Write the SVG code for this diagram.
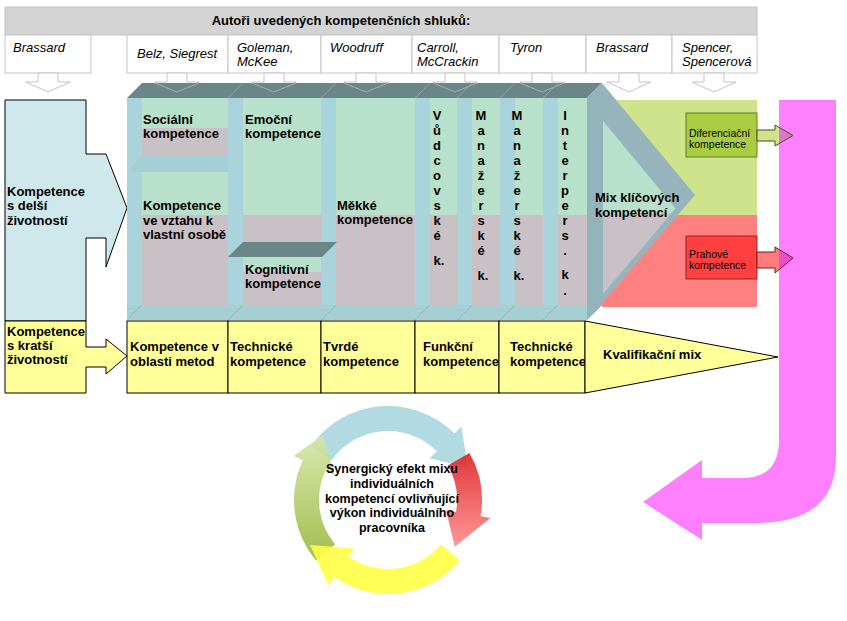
<svg xmlns="http://www.w3.org/2000/svg" width="847" height="621" viewBox="0 0 847 621">
<defs>
<style>
text{font-family:"Liberation Sans",Arial,sans-serif;fill:#000}
.b{font-weight:bold;font-size:13px}
.i{font-style:italic;font-size:13px}
.s{font-size:10.5px}
.v{font-weight:bold;font-size:13px;text-anchor:middle}
.c{font-weight:bold;font-size:12.5px;text-anchor:middle}
.cell{fill:#fff;stroke:#c4c4c4;stroke-width:1}
.dn{fill:#fff;stroke:#c4c4c4;stroke-width:1}
.dn2{fill:none;stroke:#9fb3b3;stroke-width:1}
.wall{fill:#a9d4db}
.grn{fill:#b9e0ca}
.gry{fill:#cac1c6}
.top{fill:#6b8686}
.yb{fill:#ffff99;stroke:#000;stroke-width:1}
.seam{stroke:#88a2a2;stroke-width:1}
.fseam{stroke:#8fbcc0;stroke-width:1}
.cyc{opacity:0.9}
</style>
<linearGradient id="gRed" x1="0" y1="0" x2="0" y2="1"><stop offset="0" stop-color="#dd2222"/><stop offset="1" stop-color="#ff8c8c"/></linearGradient>
<linearGradient id="gGreen" x1="0" y1="1" x2="0" y2="0"><stop offset="0" stop-color="#98b53a"/><stop offset="1" stop-color="#d6e6a8"/></linearGradient>
<linearGradient id="gDif" gradientUnits="userSpaceOnUse" x1="757" y1="0" x2="793" y2="0"><stop offset="0.61" stop-color="#d2e38e"/><stop offset="0.61" stop-color="#dd77cc"/></linearGradient>
<linearGradient id="gPra" gradientUnits="userSpaceOnUse" x1="757" y1="0" x2="793" y2="0"><stop offset="0.61" stop-color="#ff7c7c"/><stop offset="0.61" stop-color="#ee4ccc"/></linearGradient>
</defs>
<rect x="0" y="0" width="847" height="621" fill="#fff"/>

<g id="header">
<rect x="5" y="7" width="752" height="28" fill="#d4d4d4" stroke="#c4c4c4"/>
<text class="b" x="341" y="25" text-anchor="middle">Autoři uvedených kompetenčních shluků:</text>
</g>

<g id="authors">
<g id="a1"><rect class="cell" x="5" y="35" width="86" height="38"/><text class="i" x="13" y="52">Brassard</text></g>
<g id="a2"><rect class="cell" x="127" y="35" width="101" height="38"/><text class="i" x="137" y="58">Belz, Siegrest</text></g>
<g id="a3"><rect class="cell" x="228" y="35" width="93" height="38"/><text class="i" x="237" y="52">Goleman,</text><text class="i" x="237" y="66">McKee</text></g>
<g id="a4"><rect class="cell" x="321" y="35" width="91" height="38"/><text class="i" x="330" y="52">Woodruff</text></g>
<g id="a5"><rect class="cell" x="412" y="35" width="87" height="38"/><text class="i" x="417" y="52">Carroll,</text><text class="i" x="417" y="66">McCrackin</text></g>
<g id="a6"><rect class="cell" x="499" y="35" width="87" height="38"/><text class="i" x="510" y="52">Tyron</text></g>
<g id="a7"><rect class="cell" x="586" y="35" width="86" height="38"/><text class="i" x="596" y="52">Brassard</text></g>
<g id="a8"><rect class="cell" x="672" y="35" width="85" height="38"/><text class="i" x="682" y="52">Spencer,</text><text class="i" x="682" y="66">Spencerová</text></g>
</g>

<g id="author-arrows-back">
<path class="dn" d="M167,73V82H155L177,92L199,82H187V73Z"/>
<path class="dn" d="M264,73V82H252L274,92L296,82H284V73Z"/>
<path class="dn" d="M356,73V82H344L366,92L388,82H376V73Z"/>
<path class="dn" d="M445,73V82H433L455,92L477,82H465V73Z"/>
<path class="dn" d="M532,73V82H520L542,92L564,82H552V73Z"/>
</g>

<g id="right-areas">
<rect x="602" y="100" width="155" height="115" fill="#cfe38c"/>
<rect x="602" y="215" width="155" height="92" fill="#ff8080"/>
</g>

<g id="magenta-arrow">
<path d="M779,100H836V457Q836,523 755,523H702V540L643,502L702,460V478H742Q779,478 779,440Z" fill="#ff80ff"/>
</g>

<g id="left-long">
<path d="M5,100H86V154H106L127,208L106,267V238H86V321H5Z" fill="#cfe8ec" stroke="#000"/>
<text class="b" x="7" y="196">Kompetence</text>
<text class="b" x="7" y="210">s delší</text>
<text class="b" x="7" y="225">životností</text>
</g>

<g id="left-short">
<path d="M5,321H86V347H106V339L127,356L106,374V367H86V393H5Z" fill="#ffff99" stroke="#000"/>
<text class="b" x="7" y="336">Kompetence</text>
<text class="b" x="7" y="350">s kratší</text>
<text class="b" x="7" y="364">životností</text>
</g>

<g id="prism">
<rect class="grn" x="127" y="98" width="460" height="117"/>
<rect class="gry" x="127" y="215" width="460" height="90"/>
<rect class="gry" x="142" y="128" width="86" height="28"/>
<rect class="wall" x="127" y="98" width="15" height="207"/>
<rect class="wall" x="228" y="98" width="15" height="207"/>
<rect class="wall" x="321" y="98" width="15" height="207"/>
<rect class="wall" x="415" y="98" width="15" height="207"/>
<rect class="wall" x="457" y="98" width="15" height="207"/>
<rect class="wall" x="500" y="98" width="15" height="207"/>
<rect class="wall" x="543" y="98" width="15" height="207"/>
<polygon points="127,172 142,156 228,156 228,172" fill="#a4cfd5"/>
<rect class="grn" x="243" y="257" width="78" height="15"/>
<polygon class="top" points="228,257 243,242 337,242 322,257"/>
<rect x="127" y="305" width="460" height="15" fill="#a6cfd3"/>
<line class="fseam" x1="127" y1="320" x2="142" y2="305"/>
<line class="fseam" x1="228" y1="320" x2="243" y2="305"/>
<line class="fseam" x1="321" y1="320" x2="336" y2="305"/>
<line class="fseam" x1="415" y1="320" x2="430" y2="305"/>
<line class="fseam" x1="457" y1="320" x2="472" y2="305"/>
<line class="fseam" x1="500" y1="320" x2="515" y2="305"/>
<line class="fseam" x1="543" y1="320" x2="558" y2="305"/>
<polygon class="top" points="127,98 142,83 602,83 587,98"/>
<line class="seam" x1="228" y1="98" x2="243" y2="83"/>
<line class="seam" x1="321" y1="98" x2="336" y2="83"/>
<line class="seam" x1="415" y1="98" x2="430" y2="83"/>
<line class="seam" x1="457" y1="98" x2="472" y2="83"/>
<line class="seam" x1="500" y1="98" x2="515" y2="83"/>
<line class="seam" x1="543" y1="98" x2="558" y2="83"/>
<polygon points="587,98 602,83 602,305 587,320" fill="#94b4bc"/>
</g>

<g id="author-arrows-front">
<path class="dn2" d="M155,83L177,92L199,83"/>
<path class="dn2" d="M252,83L274,92L296,83"/>
<path class="dn2" d="M344,83L366,92L388,83"/>
<path class="dn2" d="M433,83L455,92L477,83"/>
<path class="dn2" d="M520,83L542,92L564,83"/>
</g>

<g id="mix-chevron">
<polygon points="602,83 695,195 587,321 602,305" fill="#97b4bd"/>
<polygon class="grn" points="603,121 675.6,208.4 671.7,213 603,213"/>
<polygon class="gry" points="603,213 671.7,213 603,294"/>
<text class="b" x="595" y="202">Mix klíčových</text>
<text class="b" x="595" y="217">kompetencí</text>
</g>

<g id="c-social"><text class="b" x="143" y="124">Sociální</text><text class="b" x="143" y="138">kompetence</text></g>
<g id="c-self"><text class="b" x="143" y="210">Kompetence</text><text class="b" x="143" y="225">ve vztahu k</text><text class="b" x="143" y="239">vlastní osobě</text></g>
<g id="c-emo"><text class="b" x="245" y="124">Emoční</text><text class="b" x="245" y="138">kompetence</text></g>
<g id="c-cog"><text class="b" x="245" y="274">Kognitivní</text><text class="b" x="245" y="288">kompetence</text></g>
<g id="c-soft"><text class="b" x="337" y="210">Měkké</text><text class="b" x="337" y="224">kompetence</text></g>
<g id="c-lead"><text class="v"><tspan x="437" y="120">V</tspan><tspan x="437" y="135">ů</tspan><tspan x="437" y="150">d</tspan><tspan x="437" y="165">c</tspan><tspan x="437" y="180">o</tspan><tspan x="437" y="195">v</tspan><tspan x="437" y="210">s</tspan><tspan x="437" y="225">k</tspan><tspan x="437" y="240">é</tspan><tspan x="439" y="265">k.</tspan></text></g>
<g id="c-man1"><text class="v"><tspan x="481" y="120">M</tspan><tspan x="481" y="135">a</tspan><tspan x="481" y="150">n</tspan><tspan x="481" y="165">a</tspan><tspan x="481" y="180">ž</tspan><tspan x="481" y="195">e</tspan><tspan x="481" y="210">r</tspan><tspan x="481" y="225">s</tspan><tspan x="481" y="240">k</tspan><tspan x="481" y="255">é</tspan><tspan x="483" y="280">k.</tspan></text></g>
<g id="c-man2"><text class="v"><tspan x="517" y="120">M</tspan><tspan x="517" y="135">a</tspan><tspan x="517" y="150">n</tspan><tspan x="517" y="165">a</tspan><tspan x="517" y="180">ž</tspan><tspan x="517" y="195">e</tspan><tspan x="517" y="210">r</tspan><tspan x="517" y="225">s</tspan><tspan x="517" y="240">k</tspan><tspan x="517" y="255">é</tspan><tspan x="519" y="280">k.</tspan></text></g>
<g id="c-inter"><text class="v"><tspan x="565" y="120">I</tspan><tspan x="565" y="135">n</tspan><tspan x="565" y="150">t</tspan><tspan x="565" y="165">e</tspan><tspan x="565" y="180">r</tspan><tspan x="565" y="195">p</tspan><tspan x="565" y="210">e</tspan><tspan x="565" y="225">r</tspan><tspan x="565" y="240">s</tspan><tspan x="565" y="255">.</tspan><tspan x="565" y="279">k</tspan><tspan x="565" y="295">.</tspan></text></g>

<g id="yellow-row">
<g id="y1"><rect class="yb" x="127" y="321" width="101" height="72"/><text class="b" x="130" y="351">Kompetence v</text><text class="b" x="130" y="366">oblasti metod</text></g>
<g id="y2"><rect class="yb" x="228" y="321" width="93" height="72"/><text class="b" x="230" y="351">Technické</text><text class="b" x="230" y="366">kompetence</text></g>
<g id="y3"><rect class="yb" x="321" y="321" width="94" height="72"/><text class="b" x="323" y="351">Tvrdé</text><text class="b" x="323" y="366">kompetence</text></g>
<g id="y4"><rect class="yb" x="415" y="321" width="84" height="72"/><text class="b" x="423" y="351">Funkční</text><text class="b" x="423" y="366">kompetence</text></g>
<g id="y5"><rect class="yb" x="499" y="321" width="86" height="72"/><text class="b" x="510" y="351">Technické</text><text class="b" x="510" y="366">kompetence</text></g>
<g id="y6"><polygon class="yb" points="585,321 778,357 585,393"/><text class="b" x="603" y="359">Kvalifikační mix</text></g>
</g>

<g id="dif">
<rect x="686" y="113" width="71" height="44" fill="#aacc40" stroke="#5f7f20"/>
<text class="s" x="689" y="137">Diferenciační</text>
<text class="s" x="689" y="148">kompetence</text>
</g>
<g id="pra">
<rect x="686" y="236" width="71" height="43" fill="#ff4040" stroke="#a02020"/>
<text class="s" x="689" y="258">Prahové</text>
<text class="s" x="689" y="269">kompetence</text>
</g>

<g id="connectors">
<path class="dn" d="M38,73V82H26L48,92L70,82H58V73Z"/>
<path class="dn" d="M619,73V82H607L629,92L651,82H639V73Z"/>
<path class="dn" d="M704,73V82H692L714,92L736,82H724V73Z"/>
<path d="M757,130H775V125L793,135.5L775,146V141H757Z" fill="url(#gDif)" stroke="#3f5018"/>
<path d="M757,252H775V247L793,258L775,273V268H757Z" fill="url(#gPra)" stroke="#6a2020"/>
</g>

<g id="cycle">
<path class="cyc" d="M311,446.1A94,94 0 0 1 454.5,433.5L461.5,426.5L467.7,467.8L429.7,458.3L436.8,451.2A69,69 0 0 0 331.5,460.4Z" fill="#a8d6df"/>
<path class="cyc" d="M316,560.4A94,94 0 0 1 302.8,460.3L293.7,456L323,435L334.5,475.1L325.5,470.8A69,69 0 0 0 335.1,544.4Z" fill="url(#gGreen)"/>
<path class="cyc" d="M460,560.4A94,94 0 0 1 334.1,577L328.3,585.2L310,545L354.2,548.3L348.4,556.5A69,69 0 0 0 440.9,544.4Z" fill="#ffff44"/>
<path class="cyc" d="M469.4,453A94,94 0 0 1 480.6,516.3L490.4,518.1L454.8,546.7L446.1,510.2L456,512A69,69 0 0 0 447.8,465.5Z" fill="url(#gRed)"/>
<text class="c" x="392" y="473">Synergický efekt mixu</text>
<text class="c" x="392" y="488">individuálních</text>
<text class="c" x="392" y="503">kompetencí ovlivňující</text>
<text class="c" x="392" y="517">výkon individuálního</text>
<text class="c" x="392" y="532">pracovníka</text>
</g>
</svg>
